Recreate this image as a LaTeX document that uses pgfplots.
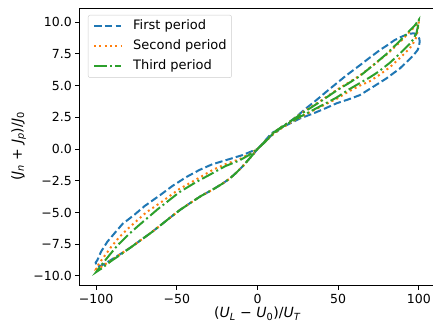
\documentclass[border=0pt]{standalone}
\usepackage{fontspec}
\setmainfont{DejaVu Sans}
\usepackage{pgfplots}
\pgfplotsset{compat=1.18}
\definecolor{tabblue}{HTML}{1F77B4}
\definecolor{taborange}{HTML}{FF7F0E}
\definecolor{tabgreen}{HTML}{2CA02C}
\begin{document}
\begin{tikzpicture}
\begin{axis}[
  at={(0,0)}, anchor=south west,
  scale only axis, width=355pt, height=277pt,
  xmin=-110, xmax=110, ymin=-10.72, ymax=11.12,
  axis line style={black, line width=1pt},
  tick pos=left, tick align=outside, major tick length=4.7pt,
  tick style={black, line width=1pt},
  xtick={-100,-50,0,50,100},
  xticklabels={−100,−50,0,50,100},
  ytick={-10,-7.5,-5,-2.5,0,2.5,5,7.5,10},
  yticklabels={−10.0,−7.5,−5.0,−2.5,0.0,2.5,5.0,7.5,10.0},
  ticklabel style={font=\fontsize{12.5}{15}\selectfont},
  xticklabel style={yshift=-1pt},
  xlabel={(\textit{U}\textsubscript{\textit{L}} − \textit{U}\textsubscript{0})/\textit{U}\textsubscript{\textit{T}}},
  ylabel={(\textit{J}\textsubscript{\textit{n}} + \textit{J}\textsubscript{\textit{p}})/\textit{J}\textsubscript{0}},
  label style={font=\fontsize{14}{16}\selectfont},
  xlabel style={at={(axis description cs:0.5,-0.08)}, anchor=north, inner sep=0pt},
  ylabel style={at={(axis description cs:-0.173,0.5)}, anchor=center, inner sep=0pt},
  legend style={at={(0.0225,0.975)}, anchor=north west, draw=black!20, rounded corners=2pt,
    fill=white, font=\fontsize{13}{15}\selectfont, inner xsep=5pt, inner ysep=5pt,
    nodes={inner sep=0pt, text height=9.5pt, text depth=3pt}, row sep=7.5pt,
    /tikz/every odd column/.append style={column sep=11pt}},
  legend cell align=left,
  legend image code/.code={\draw[#1] (0pt,0pt) -- (27pt,0pt);},
]
% First period
\addplot[tabblue, line width=2pt, dash pattern=on 7.5pt off 3.2pt] coordinates {
(0,0) (4,0.55) (8,1.15) (10,1.35) (12,1.38) (15.7,1.76) (20,2.15) (24,2.54) (30,3.2) (36.5,3.86)
(42,4.45) (48.9,5.17) (55,5.8) (63.4,6.6) (70,7.25) (75.8,7.8) (80,8.15) (85.1,8.6) (90,8.9)
(94.4,9.1) (97,9.12) (99,9.0) (100.3,8.7) (100.5,8.45) (100,8.1) (99.2,7.8) (97,7.45) (94.4,7.1)
(88.2,6.35) (79.9,5.57) (71.6,4.9) (63.4,4.25) (56,3.9) (48.9,3.6) (41,3.15) (34.4,2.8)
(26.1,2.4) (19.9,2.0) (15,1.7) (11.6,1.45) (8,1.0) (4,0.5) (0,0)
(-2.9,-0.45) (-5,-0.75) (-9.1,-1.35) (-13,-1.85) (-17.4,-2.35) (-22,-2.75) (-27.8,-3.2)
(-35,-3.7) (-42.2,-4.3) (-48,-4.8) (-53.6,-5.35) (-59,-5.9) (-66,-6.6) (-72,-7.15) (-78.5,-7.75)
(-84,-8.2) (-90.9,-8.75) (-94,-9.0) (-97,-9.2) (-99.5,-9.25) (-100.3,-8.95)
(-99.2,-8.75) (-97,-8.1) (-93,-7.3) (-88,-6.55) (-83.6,-5.9) (-76,-5.15) (-70,-4.5) (-60,-3.6)
(-52.6,-2.9) (-44,-2.2) (-36,-1.65) (-28,-1.2) (-19.4,-0.87) (-9.1,-0.47) (-4,-0.2) (0,0)
};
\addlegendentry{First period}
% Second period
\addplot[taborange, line width=2pt, dash pattern=on 2pt off 3.3pt] coordinates {
(0,0) (5,0.65) (10,1.3) (15,1.75) (20,2.15) (28,2.9) (38.5,3.75) (48.9,4.65) (56,5.2) (63.4,5.8)
(71.6,6.6) (80,7.45) (88,8.4) (94,9.2) (97.5,9.65) (100,10.05)
(99.3,9.4) (98.6,8.85) (96.5,8.35) (94.4,7.95) (88,7.15) (82,6.45) (75,5.8) (69.6,5.35) (63.4,5.0)
(56,4.5) (48.9,3.95) (38.5,3.3) (28,2.6) (20,2.05) (15,1.65) (10,1.2) (5,0.6) (0,0)
(-2.9,-0.45) (-5,-0.75) (-9.1,-1.35) (-13,-1.85) (-17.4,-2.35) (-22,-2.75) (-27.8,-3.2)
(-35,-3.7) (-42.2,-4.3) (-48,-4.8) (-53.6,-5.35) (-59,-5.9) (-66,-6.6) (-72,-7.15) (-78.5,-7.75)
(-84,-8.2) (-90.9,-8.8) (-97,-9.3) (-100,-9.45)
(-98.1,-9.0) (-94,-8.3) (-90.9,-7.75) (-85.7,-6.95) (-80.5,-6.3) (-69,-5.0) (-59.8,-4.2)
(-48.4,-3.15) (-38,-2.4) (-27.8,-1.65) (-20,-1.2) (-11.2,-0.8) (-5,-0.4) (0,0)
};
\addlegendentry{Second period}
% Third period
\addplot[tabgreen, line width=2pt, dash pattern=on 12.9pt off 3.2pt on 2pt off 3.2pt] coordinates {
(0,0) (5,0.65) (10,1.3) (15,1.75) (20,2.15) (28,2.85) (38.5,3.7) (48.9,4.6) (56,5.15) (63.4,5.75)
(71.6,6.6) (80,7.5) (88,8.5) (94,9.3) (97.5,9.75) (100,10.2)
(99.5,9.7) (98.5,9.15) (96.5,8.65) (94.4,8.3) (88,7.5) (82,6.8) (75,6.1) (69.6,5.65) (63.4,5.2)
(56,4.65) (48.9,4.05) (38.5,3.35) (28,2.65) (20,2.1) (15,1.7) (10,1.25) (5,0.6) (0,0)
(-2.9,-0.45) (-5,-0.75) (-9.1,-1.35) (-13,-1.85) (-17.4,-2.35) (-22,-2.75) (-27.8,-3.2)
(-35,-3.7) (-42.2,-4.3) (-48,-4.8) (-53.6,-5.35) (-59,-5.9) (-66,-6.6) (-72,-7.15) (-78.5,-7.75)
(-84,-8.25) (-90.9,-8.85) (-97,-9.45) (-100,-9.7)
(-97.1,-9.2) (-92,-8.4) (-86.8,-7.6) (-80,-6.75) (-74.3,-6.1) (-61.9,-4.75) (-48.4,-3.4)
(-38,-2.6) (-27.8,-1.9) (-20,-1.35) (-11.2,-0.9) (-5,-0.45) (0,0)
};
\addlegendentry{Third period}
\end{axis}
\pgfresetboundingbox
\useasboundingbox (-80pt,-40pt) rectangle (353pt,285pt);
\end{tikzpicture}
\end{document}
